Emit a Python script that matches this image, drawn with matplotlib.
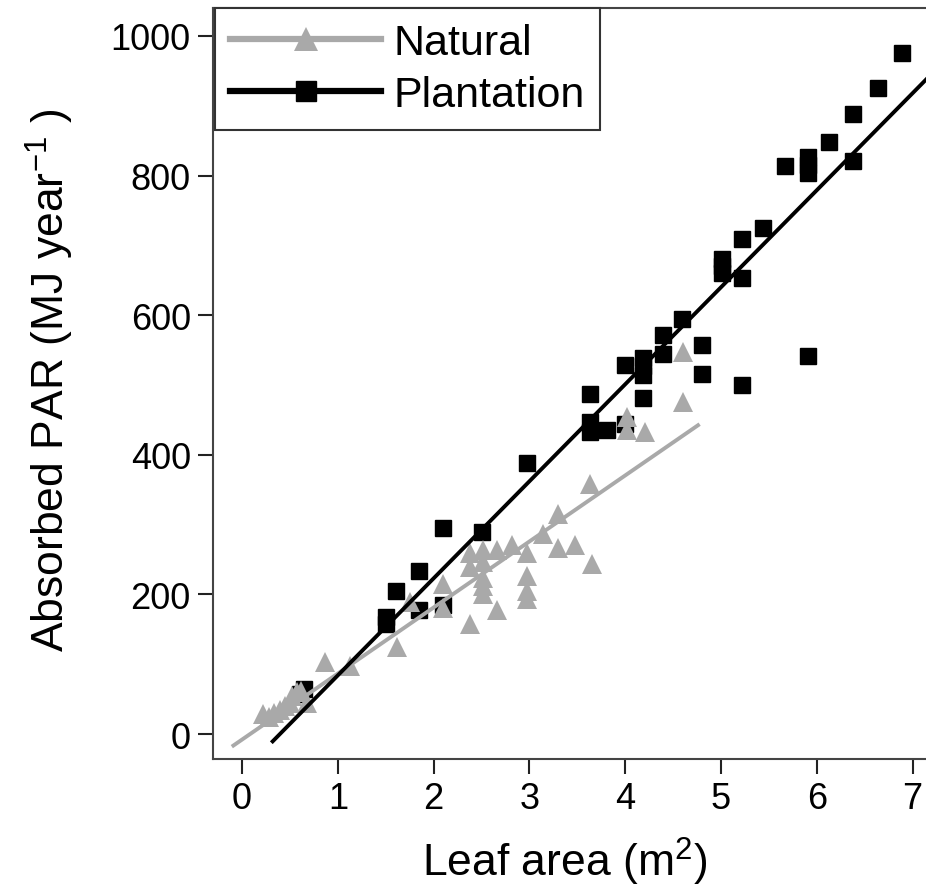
import numpy as np
import matplotlib
matplotlib.use('Agg')
import matplotlib.pyplot as plt

plt.rcParams['font.family'] = ['Liberation Sans', 'DejaVu Sans']
plt.rcParams['mathtext.fontset'] = 'custom'
plt.rcParams['mathtext.rm'] = 'Liberation Sans'
plt.rcParams['mathtext.default'] = 'regular'

# Natural stands (grey triangles)
nat_x = [0.22, 0.28, 0.33, 0.40, 0.45, 0.50, 0.52, 0.57, 0.62, 0.68, 0.87, 1.13,
         1.615, 1.75, 2.10, 2.10, 2.38, 2.38, 2.38, 2.52, 2.52, 2.52, 2.52, 2.52,
         2.665, 2.665, 2.815, 2.97, 2.97, 2.97, 2.97, 3.145, 3.30, 3.30, 3.476,
         3.65, 3.63, 4.016, 4.016, 4.21, 4.60, 4.60]
nat_y = [29, 25, 30, 35, 40, 45, 55, 60, 62, 45, 103, 98,
         124, 189, 215, 181, 260, 239, 158, 263, 246, 224, 212, 201,
         263, 178, 271, 259, 227, 205, 193, 287, 315, 267, 271,
         243, 358, 454, 435, 432, 547, 475]

# Plantation (black squares)
pla_x = [0.65, 0.60, 1.50, 1.50, 1.61, 1.85, 1.85, 2.10, 2.10, 2.50, 2.97,
         3.63, 3.63, 3.63, 3.81, 4.00, 4.00, 4.19, 4.19, 4.19, 4.19, 4.39, 4.39,
         4.59, 4.80, 4.80, 5.01, 5.01, 5.01, 5.22, 5.22, 5.22, 5.44, 5.67,
         5.91, 5.91, 5.91, 5.91, 6.13, 6.38, 6.38, 6.64, 6.89]
pla_y = [65, 58, 168, 157, 205, 233, 177, 295, 185, 290, 388,
         487, 447, 433, 436, 528, 444, 538, 527, 514, 482, 571, 545,
         595, 557, 516, 680, 670, 660, 709, 653, 500, 725, 814,
         827, 815, 804, 542, 848, 888, 821, 925, 975]

# fitted lines: intercept, slope, x range
nat_fit = [-8, 94.6]
nat_range = [-0.09, 4.76]
pla_fit = [-55, 139]
pla_range = [0.32, 7.4]

grey = '#a9a9a9'

fig = plt.figure(figsize=(9.26, 8.95), dpi=100)
# axes box in pixels: left 213, bottom 760, top 9, right beyond the picture
W, H = 926, 895
left_px, right_px, top_px, bot_px = 213, 940, 9, 760
ax = fig.add_axes([left_px / W, 1 - bot_px / H, (right_px - left_px) / W, (bot_px - top_px) / H])

ax.plot(pla_x, pla_y, 's', color='black', markersize=11.5, zorder=2)
ax.plot(nat_x, nat_y, '^', color=grey, markersize=14, markeredgewidth=0, zorder=3)

xn = np.array(nat_range)
ax.plot(xn, nat_fit[0] + nat_fit[1] * xn, '-', color=grey, lw=2.8, zorder=4)
xp = np.array(pla_range)
ax.plot(xp, pla_fit[0] + pla_fit[1] * xp, '-', color='black', lw=2.8, zorder=5)

ax.set_xlim(-0.303, 7.286)
ax.set_ylim(-35.8, 1040)
ax.set_xticks(range(0, 8))
ax.set_yticks(range(0, 1001, 200))

for s in ax.spines.values():
    s.set_color('#444444')
    s.set_linewidth(1.5)

ax.tick_params(direction='out', length=11, width=1.5, color='#222222',
               labelsize=26, pad=5)

ax.set_xlabel(r'Leaf area (m$^2$)', fontsize=32)
ax.set_ylabel(r'Absorbed PAR (MJ year$^{-1}$ )', fontsize=32)
axw = right_px - left_px
axh = bot_px - top_px
ax.xaxis.set_label_coords((565 - left_px) / axw, -(862 - bot_px) / axh)
ax.xaxis.label.set_va('center')
ax.yaxis.set_label_coords((50 - left_px) / axw, 0.505)
ax.yaxis.label.set_va('center')

h1, = ax.plot([], [], '-^', color=grey, lw=4.5, markersize=17, markeredgewidth=0)
h2, = ax.plot([], [], '-s', color='black', lw=4.5, markersize=15)
leg = ax.legend([h1, h2], ['Natural', 'Plantation'], loc='upper left',
                bbox_to_anchor=(0.003, 1.0), borderaxespad=0, fontsize=31,
                numpoints=1, handlelength=3.5, handletextpad=0.3,
                borderpad=0.35, labelspacing=0.28, fancybox=False, framealpha=1)
leg.get_frame().set_edgecolor('#333333')
leg.get_frame().set_linewidth(1.5)

fig.savefig('out.png', dpi=100)
